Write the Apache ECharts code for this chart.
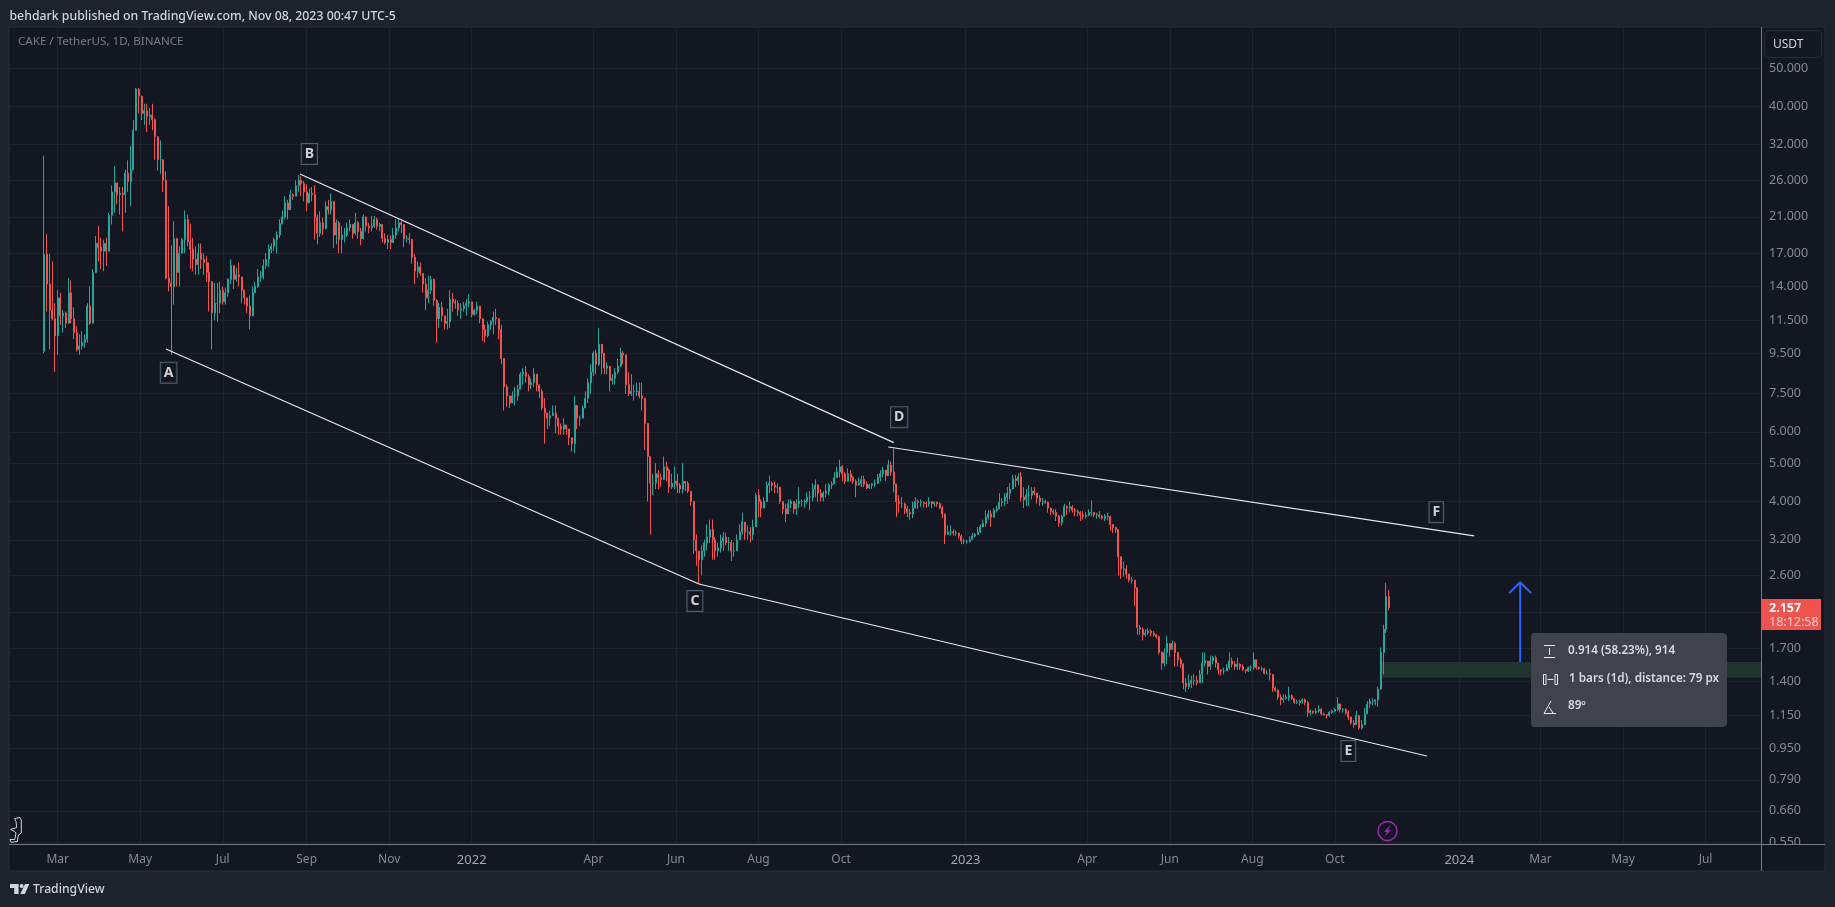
<!DOCTYPE html>
<html><head><meta charset="utf-8">
<style>html,body{margin:0;padding:0;background:#1e222d;overflow:hidden}#main{width:1835px;height:907px}</style>
<script src="https://cdn.jsdelivr.net/npm/echarts@6/dist/echarts.min.js"></script>
</head><body><div id="main"></div>
<script>
const firstBarDate = '2021-02-19';
const firstOpen = 9.6;
const barsFeb2021 = [[30,9.5,16.9],[19,12.1,14.2],[16.9,9.7,12.2],[16.2,11.5,11.6],[12.7,8.5,10.5],[13.7,9.4,13.1],[13.5,11.2,11.8],[12.2,10.7,12],[12.1,11,11.3],[14.7,11.8,13.5],[14.5,11.3,11.6],[12.4,10.3,10.7],[11.1,9.6,9.7],[10.6,9.4,9.9],[10.8,9.7,10.1],[10.6,9.8,10.3],[12.7,10.1,12.5],[14,11.2,11.3],[15.5,11.9,15.2],[18.8,15.5,18],[19.9,16.2,17.6],[18.6,15.5,17.2],[18.4,15.3,18],[18.6,15.8,17.2],[21.5,17.2,21.2],[25.2,20.1,24.3],[28.2,21.5,25.6],[25.2,22.6,23.9],[25,21.3,24.1],[25,19.3,23.9],[27.6,21.5,27.1],[29.2,24.3,25.8],[31.7,22.4,27.6],[36.9,30,34.8],[44.5,36.3,44.2],[44.5,38.4,42.4],[42.6,36.9,38.4],[40.6,35.9,39],[40.6,34.4,37.7],[39.6,35.9,38],[40.6,34.8,37],[37.3,29.3,33.5],[33.5,27.5,29.3],[32.8,27,29.3],[29.3,24.3,26],[27.4,14.6,14.7],[22.4,13.6,14.3],[17.8,9.4,14],[20.5,12.6,18.5],[18.6,14,15.2],[17.7,14,17],[18.6,17,18.4],[21.8,17,20.7],[21.3,17.7,18.2],[20.2,15.5,17.4],[18.6,15.3,16.4],[17.7,15,15.9],[18,15,17],[18,15.5,16.4],[17,15,16.1],[16.7,14.4,15.2],[16.1,12.1,14.4],[14,9.7,12],[14.3,11.5,12.7],[14.3,11.4,12.7],[14.4,12,13.7],[14,12.6,12.8],[13.9,12.6,13.5],[14.7,13.2,14.6],[16.4,14.2,15.8],[15.5,13.8,14.6],[15.6,14.4,15],[16.1,14,14.8],[14.7,12.7,13.7],[13.3,12.6,13.1],[13.1,12,12.5],[13.3,10.9,11.8],[14,12.7,13.5],[14.4,13.5,14],[15.5,13.9,14.8],[15.3,14.4,14.8],[16.4,14.6,15.8],[17,15.5,16.4],[17.9,15.7,17.4],[18,17,17.7],[18.6,17.2,18.4],[19.3,17,18.9],[20.7,18.6,20.2],[21.8,20.1,21],[23.7,20.7,22.8],[23.2,20.7,21.9],[24.6,21.9,23.9],[24.1,23.2,23.7],[26,23.7,25.2]];
const barsAug2021 = [[26.8,24.3,26],[26.6,23.7,25.5],[25.9,23,24.3],[25.4,21.7,22.8],[24.8,23,24.1],[25,23,23.9],[25.3,18.4,21],[21.3,17.9,19.1],[21.7,18.7,20.3],[20.9,18.9,19.6],[23,20.7,22.3],[23.2,21.3,21.9],[24.1,21.3,23],[23,17.5,18.9],[20.7,17.9,20.3],[20.5,17,18.4],[19.9,17,18.9],[19.7,18.1,18.9],[20.3,18.7,19.7],[20.7,19.3,20.1],[20.1,18.5,19.1],[21.5,18.9,20.3],[20.5,18.5,19.3],[19.7,17.8,18.5],[21.3,18.4,21],[20.9,19.3,19.9],[20.3,19.1,19.7],[21.1,19.3,19.9],[21.1,19.7,20.7],[20.9,19.5,19.9],[20.3,19.3,20.1],[20.1,18.1,18.5],[19.1,17.9,18.1],[18.9,17.4,18.4],[18.9,17.4,18.1],[19.7,18.3,18.9],[20.7,18.5,19.7],[20.7,19.3,20.3],[20.5,19.1,20.1],[19.3,17.6,18.5],[18.9,18.1,18.5],[19.1,17.9,18.4],[18.5,16,16.6],[16.9,14.2,15.3],[16.2,14.7,15.7],[16.1,14.9,15.1],[14.9,13.5,14.2],[14.7,12.2,13.1],[14.9,12.7,13.7],[14.9,13.4,14.6],[13.7,12.5,12.9],[13,10.1,11.6],[12.7,11,12.4],[12.8,11.4,11.8],[11.8,10.9,11.3],[12.3,10.9,11.4],[13.7,11,13],[13.5,12.1,12.8],[13,12.3,12.7],[12.9,11.8,12.2],[12.7,11.6,12.3],[12.8,12.1,12.5],[13,11.8,12.7],[13.4,12.4,12.8],[12.4,11.7,11.9],[12.3,11.8,12.2],[12.8,11.9,12.5],[12.3,11.3,11.6],[11.6,10.2,10.9],[11.2,10.1,10.5],[11.4,10.4,11.2],[11.5,10.9,11.4],[12.1,10.6,11.7],[12.3,11.2,11.6],[11.4,10.3,10.9],[11.2,8.9,9.2],[9.2,6.8,7.8]];
const barsFeb2022 = [[7.9,6.95,7.4],[7.4,6.9,7.1],[7.6,7.1,7.4],[7.8,7,7.4],[7.9,7.2,7.7],[8.5,7.7,8.4],[8.7,7.9,8.5],[8.8,8,8.3],[8.4,7.6,7.9],[8.2,7.7,8],[8.7,7.8,8.4],[8.4,7.6,7.9],[7.9,7.3,7.6],[7.7,6.8,6.9],[7.3,5.6,6.7],[6.7,6.1,6.5],[6.8,6.2,6.6],[7,6.6,6.7],[7,5.95,6.5],[6.3,5.9,6.2],[6.3,5.9,6.1],[6.5,5.9,6.25],[6.2,5.9,6.1],[6,5.55,5.8],[5.8,5.35,5.6],[7.4,5.3,7],[6.7,6.1,6.5],[6.6,6.2,6.5],[7,6.5,6.9],[7.6,6.95,7.3],[8.2,7.1,8],[8.9,7.5,8.5],[9.6,8.3,9.5],[9.7,8.4,8.9],[11,8.8,10],[10,8.4,9.5],[9.3,8.4,8.7],[9,8.4,8.8],[8.8,7.6,8.1],[8.4,7.9,8.2],[8.7,7.9,8.5],[9.2,8.4,8.8],[9.8,9,9.5],[9.6,8.9,9.4],[9.4,7.5,7.9],[8.5,7.4,7.5],[8.4,7.4,7.6],[7.9,7.2,7.6],[8,7.4,7.6],[8,7.3,7.4],[8,6.8,7.3],[7.2,5.4,6.3],[6.3,4,5.2],[4.75,3.3,4.45],[4.7,4.15,4.45],[5,4.3,4.7],[4.8,4.3,4.6],[4.7,4.35,4.55],[5.2,4.7,4.9],[5.05,4.5,4.8],[4.85,4.2,4.35],[4.7,4.3,4.45],[4.9,4.3,4.5],[4.7,4.2,4.4],[4.45,4.2,4.3],[5,4.2,4.5],[4.5,4.25,4.45],[4.5,4.2,4.25],[4.25,3.9,4],[3.95,2.95,3.2],[3.3,2.75,3],[3,2.47,2.85],[3.1,2.6,3],[3.2,2.9,3.14],[3.5,3,3.25],[3.6,3.14,3.4],[3.6,2.85,3.2],[3.25,2.85,3],[3.15,2.9,3.05]];
const barsJul2022 = [[3.3,2.97,3.18],[3.35,3,3.25],[3.33,3.1,3.15],[3.25,3,3.15],[3.2,2.83,3],[3.15,2.9,3],[3.3,3.05,3.2],[3.5,3.2,3.35],[3.75,3.3,3.55],[3.5,3.2,3.35],[3.48,3.2,3.35],[3.45,3.15,3.3],[3.6,3.2,3.45],[4.2,3.45,4.15],[4.3,3.65,4],[4.05,3.65,3.85],[4.1,3.85,4],[4.5,4.1,4.4],[4.65,4.2,4.45],[4.5,4.25,4.4],[4.5,4.2,4.35],[4.45,4.2,4.35],[4.25,3.95,4],[4,3.72,3.83],[3.95,3.55,3.72],[4.05,3.75,3.95],[4.05,3.85,4],[3.95,3.72,3.83],[4.05,3.7,3.95],[4.35,3.85,4],[4.05,3.88,4],[4.05,3.85,4],[4.22,3.95,4.1],[4.25,3.8,4.1],[4.45,4,4.3],[4.55,4.1,4.4],[4.43,4,4.2],[4.3,4,4.1],[4.25,4,4.2],[4.43,4.1,4.25],[4.45,4.15,4.4],[4.5,4.3,4.43],[4.75,4.45,4.6],[4.9,4.6,4.75],[5.1,4.6,4.9],[4.95,4.5,4.7],[4.75,4.43,4.5],[4.85,4.55,4.7],[4.8,4.5,4.6],[4.65,4.43,4.5],[4.55,4.1,4.4],[4.6,4.4,4.45],[4.65,4.35,4.55],[4.65,4.35,4.43],[4.5,4.3,4.33],[4.43,4.3,4.4],[4.45,4.3,4.43],[4.55,4.35,4.45],[4.7,4.43,4.6],[4.8,4.5,4.7],[4.9,4.6,4.8],[4.7,4.5,4.65],[5.1,4.65,4.95],[5.05,4.65,4.75],[5.45,4.22,4.43],[4.43,3.65,4],[4.15,3.75,3.95],[4.1,3.85,3.95],[3.98,3.72,3.83],[3.9,3.65,3.75],[3.83,3.6,3.72],[4,3.63,3.85],[4.1,3.85,4],[4.05,3.83,3.98],[4.05,3.88,3.98],[4,3.86,3.96],[4,3.85,3.95],[4.1,3.88,4],[4,3.85,3.95],[4,3.88,3.98],[4,3.88,3.95],[3.98,3.83,3.85],[3.9,3.63,3.72],[3.72,3.12,3.3],[3.48,3.3,3.35],[3.48,3.28,3.35],[3.4,3.28,3.33],[3.38,3.28,3.33],[3.33,3.22,3.27],[3.3,3.12,3.18],[3.22,3.12,3.17],[3.2,3.13,3.17],[3.27,3.15,3.2],[3.33,3.2,3.27],[3.33,3.25,3.3],[3.45,3.3,3.35],[3.5,3.33,3.45],[3.6,3.45,3.52],[3.8,3.45,3.65],[3.8,3.6,3.72],[3.8,3.45,3.65],[3.85,3.7,3.8],[3.9,3.75,3.83],[4.2,3.83,3.98]];
const barsJan2023 = [[4.08,3.88,4],[4.2,3.9,4.1],[4.35,3.95,4.2],[4.45,4.05,4.3],[4.67,4.3,4.57],[4.67,4.35,4.52],[4.72,4.4,4.62],[4.75,4,4.1],[4.35,3.85,4.04],[4.3,3.9,4.15],[4.4,3.9,4.15],[4.35,4.05,4.25],[4.35,4.15,4.2],[4.2,3.95,4.08],[4.15,3.9,4],[4.08,3.9,4],[4.05,3.95,3.98],[4,3.75,3.85],[3.85,3.7,3.78],[3.82,3.7,3.75],[3.82,3.57,3.67],[3.7,3.45,3.53],[3.7,3.47,3.67],[3.95,3.67,3.88],[3.92,3.7,3.85],[4,3.75,3.88],[3.92,3.75,3.8],[3.85,3.67,3.78],[3.82,3.67,3.75],[3.78,3.57,3.7],[3.78,3.6,3.67],[3.76,3.62,3.7],[3.82,3.67,3.75],[4.03,3.67,3.75],[3.75,3.65,3.7],[3.75,3.62,3.7],[3.78,3.62,3.67],[3.7,3.6,3.63],[3.72,3.57,3.67],[3.75,3.58,3.67],[3.67,3.37,3.5],[3.5,3.33,3.44],[3.44,3.33,3.4],[3.37,2.6,2.9],[2.9,2.55,2.7],[2.82,2.58,2.7],[2.76,2.55,2.62],[2.58,2.5,2.53],[2.58,2.48,2.53],[2.53,2.18,2.42],[2.2,1.84,1.92],[1.95,1.84,1.9],[1.92,1.78,1.84],[1.9,1.82,1.86],[1.91,1.84,1.88],[1.9,1.82,1.86],[1.88,1.82,1.84],[1.85,1.8,1.82],[1.83,1.64,1.66],[1.67,1.5,1.56],[1.7,1.53,1.66],[1.83,1.55,1.75],[1.75,1.62,1.69],[1.78,1.69,1.75],[1.77,1.53,1.66],[1.66,1.53,1.59],[1.61,1.52,1.55],[1.56,1.34,1.39],[1.43,1.32,1.36],[1.46,1.34,1.39],[1.45,1.35,1.41],[1.46,1.37,1.41],[1.45,1.37,1.39],[1.5,1.39,1.46],[1.66,1.39,1.56],[1.66,1.53,1.58],[1.58,1.46,1.53],[1.63,1.5,1.58],[1.63,1.55,1.61],[1.63,1.52,1.56],[1.55,1.46,1.5],[1.5,1.45,1.49],[1.52,1.46,1.49],[1.55,1.49,1.52],[1.66,1.5,1.58],[1.61,1.52,1.55],[1.58,1.5,1.53],[1.61,1.5,1.55],[1.56,1.5,1.53],[1.55,1.49,1.5],[1.5,1.47,1.49],[1.53,1.48,1.52],[1.54,1.49,1.52],[1.66,1.5,1.59],[1.58,1.5,1.52],[1.53,1.5,1.51],[1.53,1.49,1.51],[1.52,1.46,1.47],[1.5,1.46,1.47],[1.51,1.41,1.46],[1.46,1.32,1.35],[1.36,1.32,1.33],[1.34,1.26,1.28],[1.3,1.22,1.26],[1.3,1.24,1.27],[1.3,1.26,1.28],[1.36,1.25,1.29],[1.3,1.26,1.27],[1.27,1.23,1.24],[1.26,1.23,1.24],[1.26,1.22,1.25],[1.27,1.23,1.26],[1.27,1.22,1.24],[1.25,1.14,1.17],[1.19,1.15,1.18],[1.18,1.16,1.17],[1.2,1.16,1.18],[1.22,1.17,1.19],[1.2,1.15,1.16],[1.17,1.15,1.155],[1.16,1.13,1.15],[1.18,1.14,1.17],[1.19,1.16,1.18],[1.2,1.17,1.19],[1.28,1.18,1.23],[1.21,1.17,1.19],[1.2,1.17,1.19],[1.2,1.155,1.17],[1.185,1.12,1.14],[1.14,1.09,1.1],[1.12,1.07,1.09],[1.18,1.1,1.15],[1.15,1.06,1.07],[1.12,1.06,1.09],[1.2,1.1,1.16],[1.25,1.18,1.23],[1.27,1.2,1.25],[1.27,1.22,1.25],[1.26,1.22,1.26],[1.36,1.21,1.34],[1.71,1.34,1.66],[1.95,1.46,1.9],[2.49,1.86,2.3],[2.39,2.12,2.157]];

const priceTicks = [50,40,32,26,21,17,14,11.5,9.5,7.5,6,5,4,3.2,2.6,2.1,1.7,1.4,1.15,0.95,0.79,0.66,0.55];
const timeTickDates = ['2021-03-01','2021-05-01','2021-07-01','2021-09-01','2021-11-01','2022-01-01','2022-04-01','2022-06-01','2022-08-01','2022-10-01','2023-01-01','2023-04-01','2023-06-01','2023-08-01','2023-10-01','2024-01-01','2024-03-01','2024-05-01','2024-07-01'];
const timeTickLabels = ['Mar','May','Jul','Sep','Nov','2022','Apr','Jun','Aug','Oct','2023','Apr','Jun','Aug','Oct','2024','Mar','May','Jul'];
const axisStartDate = '2021-01-24', axisEndDate = '2024-08-11';
const priceMin = 0.5438, priceMax = 63.5;

const lineAC = [['2021-05-20',9.73],['2022-06-18',2.474]];
const lineCE = [['2022-06-18',2.474],['2023-12-08',0.908]];
const lineBD = [['2021-08-27',26.96],['2022-11-09',5.636]];
const lineDF = [['2022-11-05',5.495],['2024-01-12',3.273]];
const waveLabels = [['2021-05-22',8.47,'A'],['2021-09-03',30.3,'B'],['2022-06-15',2.24,'C'],['2022-11-13',6.54,'D'],['2023-10-11',0.935,'E'],['2023-12-15',3.76,'F']];
const zoneRange = ['2023-11-04',1.57,1.433];
const arrowStem = [['2024-02-15',1.57],['2024-02-15',2.484]];
const arrowHead = [['2024-02-07',2.348],['2024-02-15',2.5],['2024-02-23',2.348]];

const DAY = 86400000, ts = s => Date.parse(s + 'T00:00:00Z');
const allBars = [].concat(barsFeb2021, barsAug2021, barsFeb2022, barsJul2022, barsJan2023);
let prev = firstOpen;
const candles = allBars.map((b, i) => {
  const row = [ts(firstBarDate) + 2 * i * DAY, prev, b[2], b[1], b[0]];
  prev = b[2];
  return row;
});
const timeTicks = timeTickDates.map(ts);
const pts = a => a.map(p => [ts(p[0]), p[1]]);
const UI = '"Noto Sans", sans-serif';
const line = (d, color, w) => ({type:'line', data:pts(d), showSymbol:false, silent:true, z:6, lineStyle:{color, width:w}, animation:false});
const seg = (a,b,c,d,col,w) => ({type:'line', shape:{x1:a,y1:b,x2:c,y2:d}, style:{stroke:col||'#d1d4dc', lineWidth:w||1}, z:60, silent:true});
const txt = (x,y,t,fill,font,z) => ({type:'text', x, y, style:{text:t, fill, font, textVerticalAlign:'middle'}, z:z||62, silent:true});
const poly = (p,st) => ({type:'polygon', shape:{points:p}, style:st, z:62, silent:true});

const graphics = [
  {type:'rect', shape:{x:9,y:27,width:1816,height:844}, style:{fill:'#131722', stroke:'#2a2e39', lineWidth:1}, z:-5, silent:true},
  txt(9.5,16.5,'behdark published on TradingView.com, Nov 08, 2023 00:47 UTC-5','#d1d4dc','500 12.3px '+UI),
  txt(18,42,'CAKE / TetherUS, 1D, BINANCE','#787b86','11.6px '+UI),
  {type:'rect', shape:{x:1762,y:844.5,width:62,height:26}, style:{fill:'#131722'}, z:55, silent:true},
  seg(1761.5,27,1761.5,871,'#787b86'), seg(9,844.5,1825,844.5,'#787b86'),
  {type:'rect', shape:{x:1764.5,y:30.5,width:57,height:27,r:4}, style:{fill:'#131722', stroke:'#2a2e39', lineWidth:1}, z:58, silent:true},
  txt(1773,44.5,'USDT','#d1d4dc','12px '+UI),
  {type:'rect', shape:{x:1761,y:599,width:60,height:31}, style:{fill:'#ef5350'}, z:58, silent:true},
  txt(1769,608,'2.157','#ffffff','bold 12.5px '+UI),
  txt(1769,622.5,'18:12:58','#fbd0cf','12.5px '+UI),
  {type:'rect', shape:{x:1531,y:633,width:196,height:94,r:4}, style:{fill:'#40434d'}, z:58, silent:true},
  seg(1544,645.5,1555,645.5,'#e8eaf0'), seg(1544,657.5,1555,657.5,'#e8eaf0'), seg(1549.5,648,1549.5,655,'#e8eaf0'),
  {type:'rect', shape:{x:1543.5,y:674.5,width:2.5,height:10}, style:{fill:'none', stroke:'#e8eaf0', lineWidth:1}, z:60, silent:true},
  {type:'rect', shape:{x:1555,y:674.5,width:2.5,height:10}, style:{fill:'none', stroke:'#e8eaf0', lineWidth:1}, z:60, silent:true},
  seg(1547.5,679.5,1553.5,679.5,'#e8eaf0'),
  seg(1544,713.5,1556,713.5,'#e8eaf0'), seg(1544,713.5,1551,701,'#e8eaf0'), seg(1549,707,1553,713,'#e8eaf0'),
  txt(1568,651,'0.914 (58.23%), 914','#d8dae0','600 11.7px '+UI),
  txt(1569,679,'1 bars (1d), distance: 79 px','#d8dae0','600 11.7px '+UI),
  txt(1568,706,'89º','#d8dae0','600 11.7px '+UI),
  {type:'circle', shape:{cx:1387.5,cy:831,r:9.5}, style:{fill:'none', stroke:'#9c27b0', lineWidth:1.5}, z:60, silent:true},
  poly([[1390.5,825],[1384,832],[1387,832],[1384.5,837],[1391,830],[1388,830]],{fill:'#9c27b0'}),
  poly([[14.7,818.5],[20,817.5],[21.3,820],[21.3,833],[18.3,835],[17.3,841.5],[11,842.3],[10,839.5],[14.7,839.5],[16,833],[14.7,831.5],[10.7,829.5],[16.7,827.5],[16,821.5]],{fill:'none', stroke:'#d1d4dc', lineWidth:1}),
  poly([[10,884],[18.6,884],[18.6,894],[14.2,894],[14.2,888],[10,888]],{fill:'#d1d4dc'}),
  {type:'circle', shape:{cx:21.6,cy:886,r:2}, style:{fill:'#d1d4dc'}, z:62, silent:true},
  poly([[25,884],[29.3,884],[24.8,894],[20.2,894]],{fill:'#d1d4dc'}),
  txt(33,890,'TradingView','#d1d4dc','500 12.2px '+UI)
];

const chart = echarts.init(document.getElementById('main'), null, {renderer:'canvas'});
chart.setOption({
  animation:false, backgroundColor:'#1e222d',
  grid:{left:9, right:74, top:27, bottom:63, containLabel:false},
  xAxis:{type:'value', min:ts(axisStartDate), max:ts(axisEndDate), scale:true,
    axisLine:{show:false}, axisTick:{show:false, customValues:timeTicks},
    splitLine:{show:true, lineStyle:{color:'#1f232e', width:1}},
    axisLabel:{customValues:timeTicks, margin:9.5, hideOverlap:false,
      formatter:v => { const l = timeTickLabels[timeTicks.indexOf(+v)] || ''; return /^\d/.test(l) ? '{y|'+l+'}' : '{m|'+l+'}'; },
      rich:{m:{color:'#868993', fontSize:12, fontFamily:UI}, y:{color:'#a3a6af', fontSize:13, fontWeight:'normal', fontFamily:UI}}}},
  yAxis:{type:'log', logBase:10, position:'right', min:priceMin, max:priceMax,
    axisLine:{show:false}, axisTick:{show:false, customValues:priceTicks},
    splitLine:{show:true, lineStyle:{color:'#1f232e', width:1}},
    axisLabel:{customValues:priceTicks, color:'#868993', fontSize:12.5, fontFamily:UI, margin:8, inside:false,
      formatter:v => (+v).toFixed(3)}},
  graphic:{elements:graphics},
  series:[
    {type:'line', data:[], silent:true, z:1,
      markArea:{silent:true, itemStyle:{color:'#20332d'}, data:[[{xAxis:ts(zoneRange[0]), yAxis:zoneRange[1]},{xAxis:ts(axisEndDate), yAxis:zoneRange[2]}]]}},
    {type:'candlestick', name:'CAKE', data:candles, encode:{x:0, y:[1,2,3,4]}, barWidth:1.5, large:false, progressive:0, silent:true, z:3,
      itemStyle:{color:'#26a69a', color0:'#ef5350', borderColor:'#26a69a', borderColor0:'#ef5350', borderWidth:1}},
    line(lineAC,'#e6e8ec',1.2), line(lineCE,'#e6e8ec',1.2), line(lineBD,'#e6e8ec',1.2), line(lineDF,'#e6e8ec',1.2),
    line(arrowStem,'#2962ff',2), line(arrowHead,'#2962ff',2),
    {type:'scatter', data:waveLabels.map(w => ({value:[ts(w[0]), w[1]], name:w[2]})), symbolSize:1, itemStyle:{color:'transparent'}, silent:true, z:8,
      label:{show:true, position:'inside', formatter:'{b}', color:'#ffffff', fontFamily:UI, fontWeight:'bold', fontSize:14, lineHeight:15,
        backgroundColor:'#131722', borderColor:'#5d7285', borderWidth:1, padding:[3,3,2,3]}}
  ]
});
</script></body></html>
